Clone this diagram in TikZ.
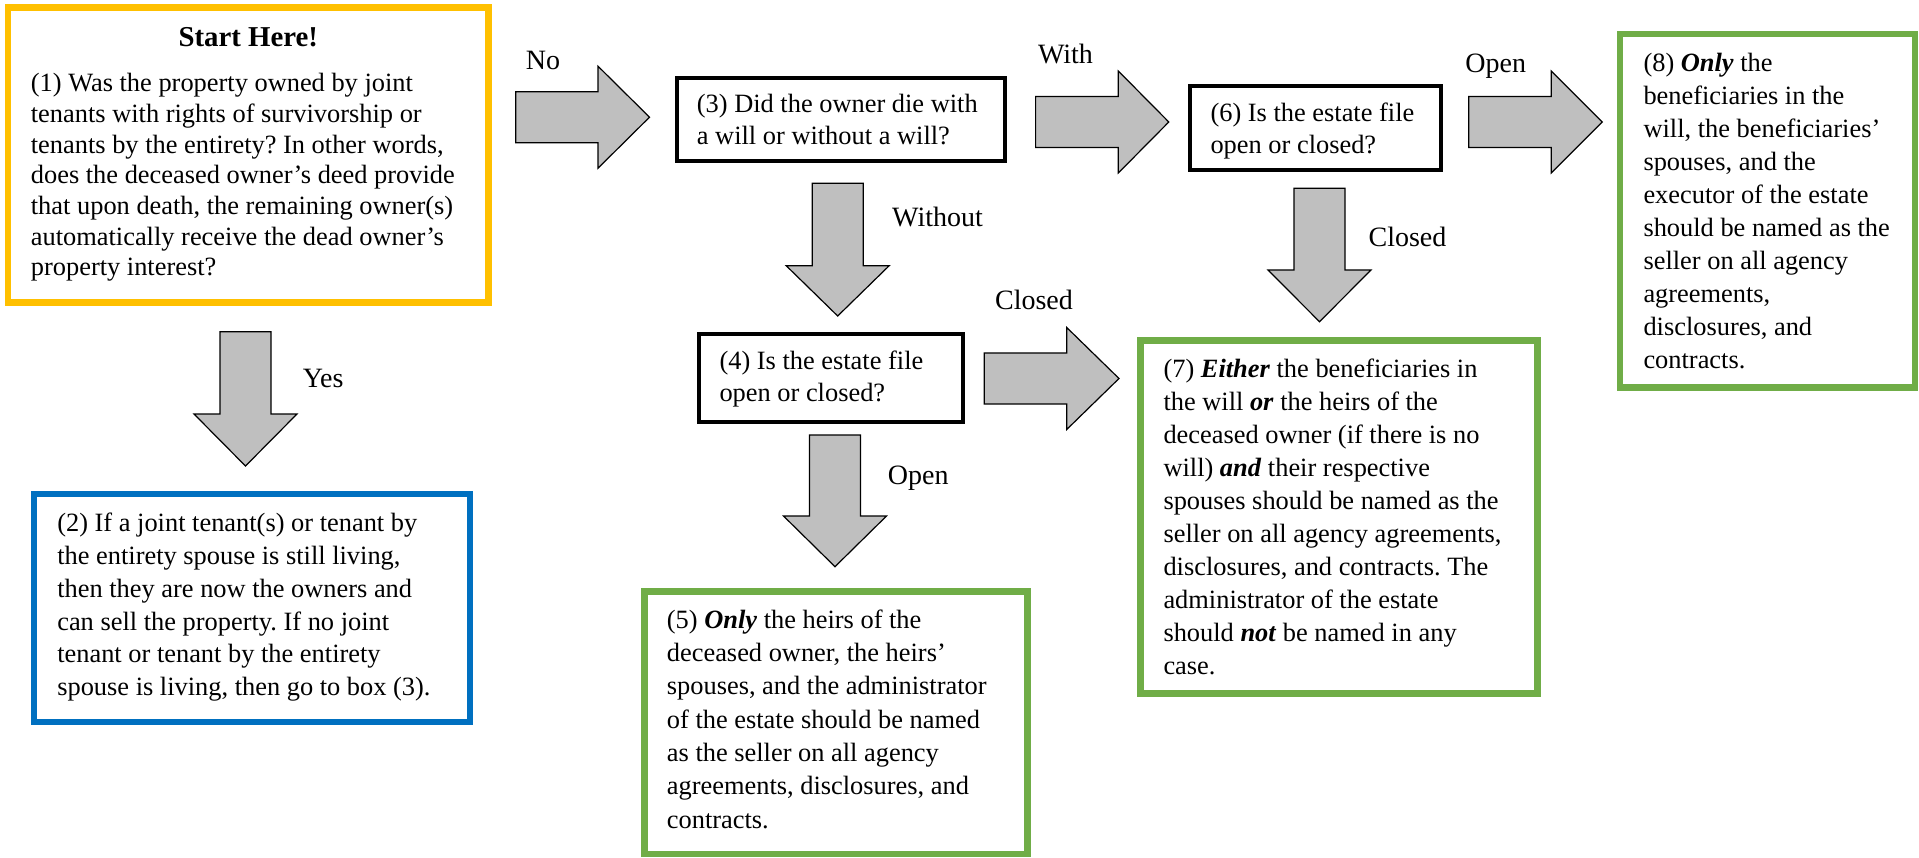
\documentclass[tikz,border=0pt]{standalone}
\usepackage{fontspec}
\setmainfont{Liberation Serif}
\frenchspacing
\definecolor{startyellow}{HTML}{FFC000}
\definecolor{infoblue}{HTML}{0070C0}
\definecolor{endgreen}{HTML}{70AD47}
\definecolor{arrowgrey}{HTML}{BFBFBF}
\newcommand{\bi}[1]{\textbf{\textit{#1}}}
\tikzset{
  box/.style={draw, fill=white, inner sep=0pt, outer sep=0pt, rectangle},
  startbox/.style={box, draw=startyellow, line width=6.5pt},
  infobox/.style={box, draw=infoblue, line width=6pt},
  qbox/.style={box, draw=black, line width=4pt},
  endbox/.style={box, draw=endgreen, line width=6.5pt},
  barrow/.style={draw=black, fill=arrowgrey, line width=1.2pt, line join=miter},
  lbl/.style={anchor=base, inner sep=0pt, font=\fontsize{28}{28}\selectfont},
  txt/.style={anchor=base west, inner sep=0pt}
}
% #1 name, #2 x, #3 first baseline, #4 line spacing, #5 text
\newcommand{\btext}[5]{\node[txt] (#1) at (#2,#3) {\parbox[t]{520pt}{\fontsize{26.4}{#4}\selectfont\frenchspacing\raggedright #5}};}
% right block arrow: #1 shaft start x, #2 head base x, #3 tip x, #4 centre y
\newcommand{\rarrow}[4]{\draw[barrow] (#1,#4-25.5) -- (#2,#4-25.5) -- (#2,#4-51) -- (#3,#4) -- (#2,#4+51) -- (#2,#4+25.5) -- (#1,#4+25.5) -- cycle;}
% down block arrow: #1 shaft start y, #2 head base y, #3 tip y, #4 centre x
\newcommand{\darrow}[4]{\draw[barrow] (#4-25.5,#1) -- (#4-25.5,#2) -- (#4-51.5,#2) -- (#4,#3) -- (#4+51.5,#2) -- (#4+25.5,#2) -- (#4+25.5,#1) -- cycle;}
\begin{document}
\begin{tikzpicture}[x=1pt,y=-1pt]
\useasboundingbox (0,0) rectangle (1919,858);

% boxes
\node[startbox, minimum width=480.7pt, minimum height=295.4pt] (b1) at (248.35,155) {};
\node[infobox, minimum width=436pt, minimum height=228.3pt] (b2) at (252.2,607.85) {};
\node[qbox, minimum width=328pt, minimum height=82.7pt] (b3) at (841.2,119.35) {};
\node[qbox, minimum width=264pt, minimum height=87.8pt] (b4) at (831,377.6) {};
\node[endbox, minimum width=382.8pt, minimum height=262.7pt] (b5) at (836.1,722.65) {};
\node[qbox, minimum width=250.5pt, minimum height=83.4pt] (b6) at (1315.55,128) {};
\node[endbox, minimum width=397pt, minimum height=353pt] (b7) at (1339,517) {};
\node[endbox, minimum width=295pt, minimum height=353.5pt] (b8) at (1767.5,210.75) {};

% texts
\node[anchor=base, inner sep=0pt, font=\fontsize{28.8}{28.8}\selectfont\bfseries] (h1) at (248.3,46.7) {Start Here!};
\btext{t1}{30.7}{91.7}{30.7}{(1) Was the property owned by joint\\
tenants with rights of survivorship or\\
tenants by the entirety? In other words,\\
does the deceased owner’s deed provide\\
that upon death, the remaining owner(s)\\
automatically receive the dead owner’s\\
property interest?}
\btext{t2}{57.1}{531.7}{32.8}{(2) If a joint tenant(s) or tenant by\\
the entirety spouse is still living,\\
then they are now the owners and\\
can sell the property. If no joint\\
tenant or tenant by the entirety\\
spouse is living, then go to box (3).}
\btext{t3}{696.7}{112.7}{32.3}{(3) Did the owner die with\\
a will or without a will?}
\btext{t4}{719.3}{369.3}{32.4}{(4) Is the estate file\\
open or closed?}
\btext{t5}{666.7}{628.3}{33.3}{(5) \bi{Only} the heirs of the\\
deceased owner, the heirs’\\
spouses, and the administrator\\
of the estate should be named\\
as the seller on all agency\\
agreements, disclosures, and\\
contracts.}
\btext{t6}{1210.3}{121.7}{32.3}{(6) Is the estate file\\
open or closed?}
\btext{t7}{1163.3}{377.3}{33}{(7) \bi{Either} the beneficiaries in\\
the will \bi{or} the heirs of the\\
deceased owner (if there is no\\
will) \bi{and} their respective\\
spouses should be named as the\\
seller on all agency agreements,\\
disclosures, and contracts. The\\
administrator of the estate\\
should \bi{not} be named in any\\
case.}
\btext{t8}{1643.3}{71.7}{32.96}{(8) \bi{Only} the\\
beneficiaries in the\\
will, the beneficiaries’\\
spouses, and the\\
executor of the estate\\
should be named as the\\
seller on all agency\\
agreements,\\
disclosures, and\\
contracts.}

% block arrows
\rarrow{515.7}{598}{649.5}{117.2}
\rarrow{1035.6}{1118.3}{1168.8}{122}
\rarrow{1468.8}{1551.2}{1602.2}{122}
\rarrow{984.3}{1066.7}{1119}{378.5}
\darrow{331.7}{414}{466}{245.5}
\darrow{183.3}{265.7}{316}{837.7}
\darrow{435}{516}{566.7}{835}
\darrow{188.3}{270}{321.7}{1319.5}

% arrow labels
\node[lbl] (lno) at (543,70) {No};
\node[lbl] (lwith) at (1065.5,63.3) {With};
\node[lbl] (lopen1) at (1495.8,72.7) {Open};
\node[lbl] (lwithout) at (937.5,226.7) {Without};
\node[lbl] (lclosed1) at (1407.5,246.7) {Closed};
\node[lbl] (lclosed2) at (1034,309.3) {Closed};
\node[lbl] (lyes) at (323.2,387.3) {Yes};
\node[lbl] (lopen2) at (918.3,484) {Open};
\end{tikzpicture}
\end{document}
